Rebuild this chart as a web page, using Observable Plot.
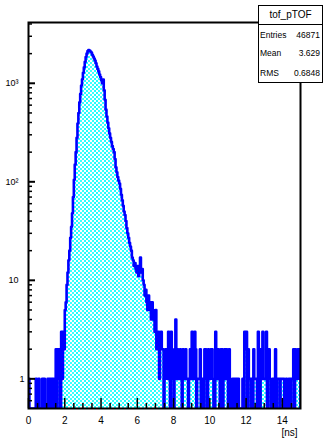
<!DOCTYPE html>
<html><head><meta charset="utf-8">
<script src="https://cdn.jsdelivr.net/npm/d3@7"></script>
<script src="https://cdn.jsdelivr.net/npm/@observablehq/plot@0.6"></script>
<style>
html,body{margin:0;padding:0;background:#fff;}
#wrap{position:relative;width:324px;height:441px;font-family:"Liberation Sans",Arial,Helvetica,sans-serif;}
#stats{position:absolute;left:258px;top:5px;width:65px;height:78px;box-sizing:border-box;border:1.5px solid #000;background:#fff;}
#stats .title{position:absolute;left:0;right:0;top:0;height:18px;border-bottom:1.5px solid #000;text-align:center;font-size:10px;line-height:18px;}
#stats .row{position:absolute;left:1px;right:2px;height:12px;font-size:8.5px;line-height:12px;display:flex;justify-content:space-between;}
</style></head><body><div id="wrap"></div>
<script>
// histogram tof_pTOF: 300 bins from 0 to 15 ns
const xMin = 0, xMax = 15;
const counts = [
  1,0,0,0,0,0,0,0,1,0, 0,1,0,0,0,1,0,1,0,0,
  0,1,1,0,1,1,0,1,0,0, 2,0,2,2,1,0,3,1,3,2,
  5,6,9,12,16,20,27,35,48,70, 105,150,200,280,390,500,640,780,950,1100,
  1280,1450,1650,1850,2000,2120,2180,2150,2100,2050, 1950,1870,1780,1700,1600,1480,1400,1320,1230,1160,
  1080,1000,1090,850,680,540,460,400,350,310, 280,255,230,215,200,170,140,125,112,103,
  96,85,74,65,57,50,46,40,34,30, 27,24,22,20,17,16,14,15,13,12,
  14,11,13,17,12,13,10,9,7,8, 6,5,7,5,6,4,6,5,4,3,
  5,2,2,3,1,2,3,2,2,0, 1,2,2,1,3,1,0,3,2,1,
  0,2,4,1,2,1,1,2,1,0, 2,1,1,2,1,1,0,1,2,1,
  3,1,1,3,2,0,1,1,1,2, 0,1,1,0,2,2,1,0,2,1,
  1,2,2,1,0,0,3,1,1,2, 1,0,2,2,0,1,2,1,2,1,
  0,2,1,0,0,1,0,1,1,0, 1,1,0,0,0,0,1,0,3,2,
  3,0,2,1,1,0,1,0,2,1, 1,1,0,3,1,0,2,1,3,1,
  1,1,3,0,2,2,1,0,0,1, 1,0,2,0,1,1,1,0,1,1,
  1,1,0,0,1,0,0,1,1,0, 1,1,2,0,2,1,1,2,2,1
];
const xLabels = [0,2,4,6,8,10,12,14];
const xMinorTicks = [0.5,1,1.5,2.5,3,3.5,4.5,5,5.5,6.5,7,7.5,8.5,9,9.5,10.5,11,11.5,12.5,13,13.5,14.5];
const yMajorTicks = [1,10,100,1000];
const yMinorTicks = [0.6,0.7,0.8,0.9,2,3,4,5,6,7,8,9,20,30,40,50,60,70,80,90,200,300,400,500,600,700,800,900,2000,3000,4000];
const yLabelText = {1:"1",10:"10",100:"10\u00B2",1000:"10\u00B3"};
const statTitle = "tof_pTOF";
const statNames = ["Entries","Mean","RMS"];
const statValues = ["46871","3.629","0.6848"];
const yMin = 0.5, yMax = 4140;

const W = 324, H = 441, mL = 28, mR = 24, mT = 22, mB = 33;
const frameH = H - mT - mB, frameW = W - mL - mR;
const bw = (xMax - xMin) / counts.length;
const bins = counts.map((c, i) => ({x0: xMin + i * bw, x1: xMin + (i + 1) * bw, count: c}));
const steps = [{x: xMin, y: yMin}];
bins.forEach(b => steps.push({x: b.x0, y: Math.max(b.count, yMin)}));
steps.push({x: xMax, y: Math.max(counts[counts.length - 1], yMin)});
steps.push({x: xMax, y: yMin});

const svg = Plot.plot({
  width: W, height: H,
  marginLeft: mL, marginRight: mR, marginTop: mT, marginBottom: mB,
  style: {fontFamily: '"Liberation Sans", Arial, sans-serif', background: "white", color: "black"},
  x: {domain: [xMin, xMax]},
  y: {type: "log", domain: [yMin, yMax]},
  marks: [
    Plot.rect(bins.filter(b => b.count > 0), {x1: "x0", x2: "x1", y1: yMin, y2: "count", fill: "url(#chk)"}),
    Plot.line(steps, {x: "x", y: "y", curve: "step-after", stroke: "#0000ff", strokeWidth: 2.6, clip: true}),
    Plot.tickX(xLabels, {x: d => d, insetTop: frameH - 10, stroke: "black", strokeWidth: 1.5}),
    Plot.tickX(xMinorTicks, {x: d => d, insetTop: frameH - 5, stroke: "black", strokeWidth: 1.5}),
    Plot.tickY(yMajorTicks, {y: d => d, insetRight: frameW - 7, stroke: "black", strokeWidth: 2}),
    Plot.tickY(yMinorTicks, {y: d => d, insetRight: frameW - 4, stroke: "black", strokeWidth: 1.5}),
    Plot.axisX({ticks: xLabels, tickSize: 0, tickPadding: 8, fontSize: 10, label: null}),
    Plot.axisY({ticks: [10, 100, 1000], tickFormat: d => yLabelText[d], tickSize: 0, tickPadding: 10, fontSize: 9, label: null}),
    Plot.axisY({ticks: [1], tickFormat: d => yLabelText[d], tickSize: 0, tickPadding: 4, fontSize: 9, label: null}),
    Plot.frame({stroke: "black", strokeWidth: 2}),
    Plot.text(["[ns]"], {text: d => d, frameAnchor: "bottom-right", dy: 27, dx: -3, fontSize: 10, textAnchor: "end"})
  ]
});

const defs = d3.select(svg).insert("defs", ":first-child");
const pat = defs.append("pattern").attr("id", "chk").attr("patternUnits", "userSpaceOnUse").attr("width", 4).attr("height", 4);
pat.append("rect").attr("width", 4).attr("height", 4).attr("fill", "#ffffff");
pat.append("rect").attr("x", 0).attr("y", 0).attr("width", 2).attr("height", 2).attr("fill", "#00ffff");
pat.append("rect").attr("x", 2).attr("y", 2).attr("width", 2).attr("height", 2).attr("fill", "#00ffff");

const wrap = document.getElementById("wrap");
wrap.appendChild(svg);
const box = document.createElement("div");
box.id = "stats";
const t = document.createElement("div");
t.className = "title"; t.textContent = statTitle;
box.appendChild(t);
const rowTops = [23, 41, 61];
statNames.forEach((n, i) => {
  const r = document.createElement("div");
  r.className = "row"; r.style.top = rowTops[i] + "px";
  const a = document.createElement("span"); a.textContent = n;
  const b = document.createElement("span"); b.textContent = statValues[i];
  r.appendChild(a); r.appendChild(b);
  box.appendChild(r);
});
wrap.appendChild(box);
</script>
</body></html>
